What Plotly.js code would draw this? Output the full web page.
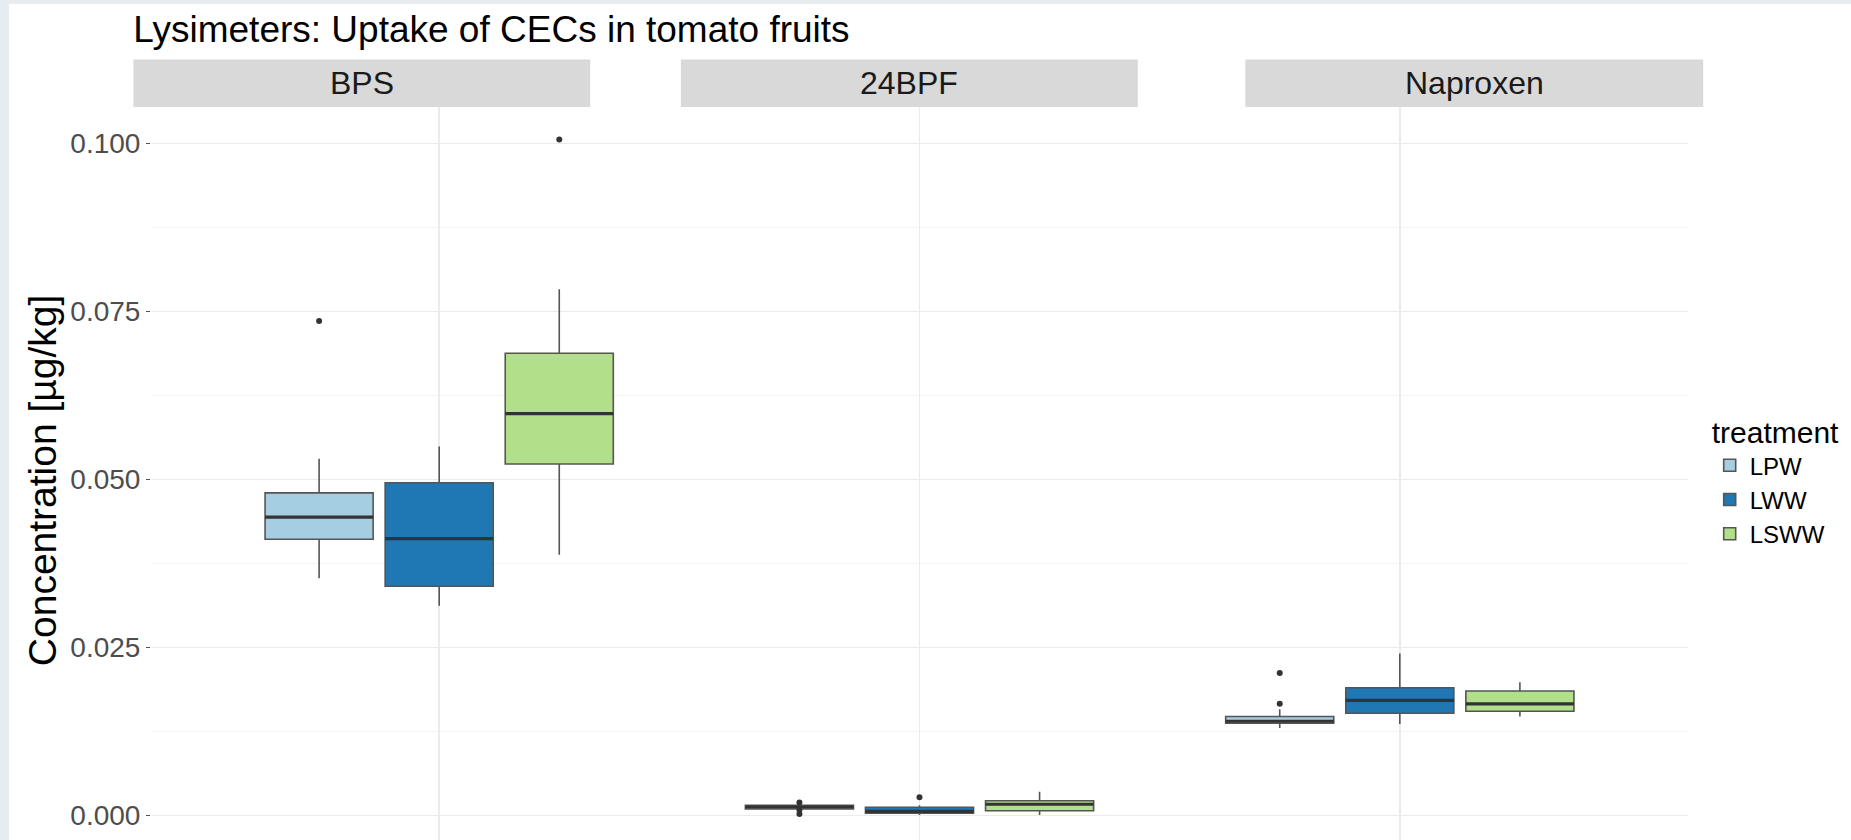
<!DOCTYPE html>
<html><head><meta charset="utf-8">
<script src="https://cdn.plot.ly/plotly-3.0.1.min.js"></script>
<style>
html,body{margin:0;padding:0;width:1851px;height:840px;overflow:hidden;background:#e7ecf0;}
#chart{position:absolute;left:9px;top:4px;width:1842px;height:836px;background:#fff;}
</style></head><body><div id="chart"></div>
<script>
// ---------- data ----------
const categories = ['BPS', '24BPF', 'Naproxen'];
const treatments = ['LPW', 'LWW', 'LSWW'];
const treatmentColors = ['#a6cee3', '#1f78b4', '#b2df8a'];

// LPW
const LPW_lowerfence = [0.0353, 0.0009, 0.0130];
const LPW_q1         = [0.0411, 0.00094, 0.0137];
const LPW_median     = [0.0444, 0.00124, 0.0140];
const LPW_q3         = [0.0480, 0.00149, 0.0147];
const LPW_upperfence = [0.0531, 0.0015, 0.0158];
const LPW_outliers   = [[0.0736], [0.0019, 0.0008, 0.0002], [0.0166, 0.0212]];

// LWW
const LWW_lowerfence = [0.0312, 0.00005, 0.0136];
const LWW_q1         = [0.0341, 0.0003, 0.0152];
const LWW_median     = [0.0412, 0.0006, 0.0171];
const LWW_q3         = [0.0495, 0.0012, 0.0190];
const LWW_upperfence = [0.0549, 0.0015, 0.0241];
const LWW_outliers   = [[], [0.0027], []];

// LSWW
const LSWW_lowerfence = [0.0388, 0.00005, 0.0147];
const LSWW_q1         = [0.0523, 0.00068, 0.0155];
const LSWW_median     = [0.0598, 0.00165, 0.0166];
const LSWW_q3         = [0.0688, 0.00217, 0.0185];
const LSWW_upperfence = [0.0783, 0.0035, 0.0198];
const LSWW_outliers   = [[0.1006], [], []];

const stripLabels = ['BPS', '24BPF', 'Naproxen'];
const chartTitle = 'Lysimeters: Uptake of CECs in tomato fruits';
const yTitle = 'Concentration [µg/kg]';
const legendTitle = 'treatment';

// ---------- build ----------
const stats = {
  LPW:  {lf: LPW_lowerfence,  q1: LPW_q1,  med: LPW_median,  q3: LPW_q3,  uf: LPW_upperfence,  out: LPW_outliers},
  LWW:  {lf: LWW_lowerfence,  q1: LWW_q1,  med: LWW_median,  q3: LWW_q3,  uf: LWW_upperfence,  out: LWW_outliers},
  LSWW: {lf: LSWW_lowerfence, q1: LSWW_q1, med: LSWW_median, q3: LSWW_q3, uf: LSWW_upperfence, out: LSWW_outliers}
};
// empty outlier lists become [null] so every box keeps a sample row
const samples = out => out.map(a => (a.length ? a : [null]));

const FONT = 'Liberation Sans, Arial, Helvetica, sans-serif';
const traces = [];
treatments.forEach((t, i) => {
  const s = stats[t];
  traces.push({
    type: 'box', name: t, x: categories, y: samples(s.out),
    q1: s.q1, median: s.med, q3: s.q3, lowerfence: s.lf, upperfence: s.uf,
    boxpoints: 'outliers', jitter: 0, pointpos: 0, whiskerwidth: 0,
    offsetgroup: t, fillcolor: treatmentColors[i],
    line: {color: '#555555', width: 1.6},
    marker: {color: '#333333', size: 6, line: {width: 0}},
    hoverinfo: 'skip'
  });
});
// thicker median bars (ggplot style)
treatments.forEach((t, i) => {
  const s = stats[t];
  traces.push({
    type: 'box', name: t + ' median', x: categories,
    q1: s.med, median: s.med, q3: s.med, lowerfence: s.med, upperfence: s.med,
    boxpoints: false, whiskerwidth: 0, offsetgroup: t, showlegend: false,
    fillcolor: 'rgba(0,0,0,0)', line: {color: '#333333', width: 3.2},
    hoverinfo: 'skip'
  });
});

const W = 1842, H = 836;
const L = 142, R = 162.7, T = 102.7, B = 0;
const plotW = W - L - R, plotH = H - T - B;
const px2x = px => (px - L) / plotW;
const px2y = py => 1 - (py - T) / plotH;

// strip boxes (pixel extents within the figure)
const stripX = [[124.4, 581.3], [672, 1129], [1236.5, 1694.5]];
const stripY = [55.3, 102.7];

const shapes = stripX.map(([a, b]) => ({
  type: 'rect', xref: 'paper', yref: 'paper', layer: 'below',
  x0: px2x(a), x1: px2x(b), y0: px2y(stripY[1]), y1: px2y(stripY[0]),
  fillcolor: '#d9d9d9', line: {width: 0}
}));
const annotations = stripX.map(([a, b], i) => ({
  xref: 'paper', yref: 'paper', x: px2x((a + b) / 2), y: px2y((stripY[0] + stripY[1]) / 2),
  xanchor: 'center', yanchor: 'middle', showarrow: false,
  text: stripLabels[i], font: {family: FONT, size: 32, color: '#1a1a1a'}
}));
// y-axis title
annotations.push({
  xref: 'paper', yref: 'paper', x: px2x(33), y: px2y(476),
  xanchor: 'center', yanchor: 'middle', showarrow: false, textangle: -90,
  text: yTitle, font: {family: FONT, size: 39, color: '#000'}
});

const layout = {
  width: W, height: H,
  margin: {l: L, r: R, t: T, b: B, pad: 0},
  paper_bgcolor: '#ffffff', plot_bgcolor: '#ffffff',
  font: {family: FONT, color: '#000'},
  title: {
    text: chartTitle, xref: 'container', yref: 'container',
    x: 124.3 / W, xanchor: 'left', y: 1 - 24.7 / H, yanchor: 'middle',
    font: {family: FONT, size: 37, color: '#000'}
  },
  boxmode: 'group', boxgap: 0.25, boxgroupgap: 0.1,
  xaxis: {
    type: 'category', categoryorder: 'array', categoryarray: categories,
    range: [-0.6, 2.6], showticklabels: false, ticks: '',
    showgrid: true, gridcolor: '#ebebeb', gridwidth: 1.5,
    zeroline: false, showline: false, fixedrange: true
  },
  yaxis: {
    range: [-0.003676, 0.10545], tick0: 0, dtick: 0.025, tickformat: '.3f',
    showgrid: true, gridcolor: '#ebebeb', gridwidth: 1.5,
    minor: {dtick: 0.0125, showgrid: true, gridcolor: '#f3f3f3', gridwidth: 1},
    zeroline: false, showline: false,
    ticks: 'outside', ticklen: 4, tickwidth: 1, tickcolor: '#4d4d4d',
    tickfont: {family: FONT, size: 28, color: '#4d4d4d'},
    automargin: false, fixedrange: true
  },
  showlegend: true,
  legend: {
    x: px2x(1701), xanchor: 'left', y: px2y(400), yanchor: 'top',
    bgcolor: 'rgba(0,0,0,0)', borderwidth: 0, tracegroupgap: 0,
    font: {family: FONT, size: 24, color: '#000'},
    title: {text: legendTitle, font: {family: FONT, size: 30, color: '#000'}}
  },
  shapes: shapes,
  annotations: annotations,
  hovermode: false
};

Plotly.newPlot('chart', traces, layout, {displayModeBar: false, staticPlot: true});
</script></body></html>
